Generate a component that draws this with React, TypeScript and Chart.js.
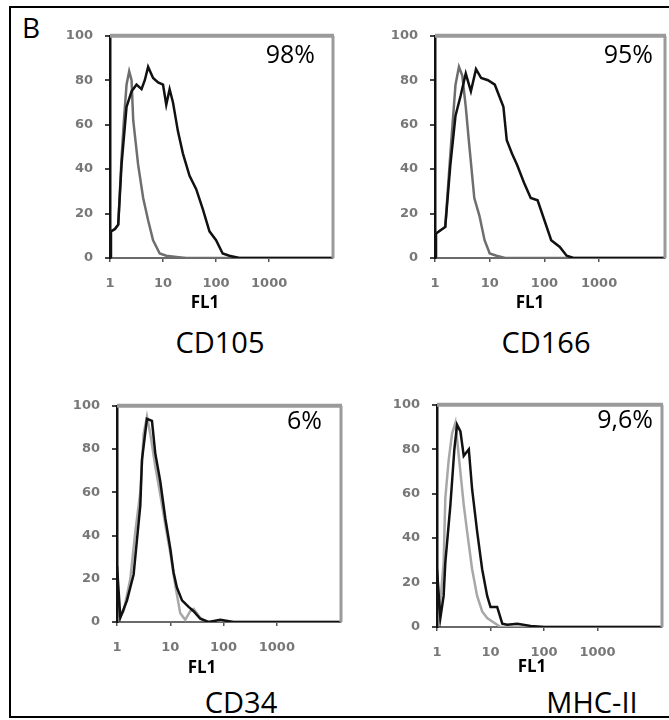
import React, { useEffect, useRef } from "react";
import { Chart, registerables } from "chart.js";
Chart.register(...registerables);

// ---- axis data ----
const yTickValues = [0, 20, 40, 60, 80, 100];
const xTickValues = [1, 10, 100, 1000];
const xMin = 1;
const xMax = 16000;

// ---- CD105 ----
const cd105ControlX = [1, 1.04, 1.24, 1.43, 1.65, 1.83, 2.05, 2.3, 2.55, 2.74, 3.39, 4.22, 5.23, 6.49, 8.66, 11.5, 17.8, 27.4, 16000];
const cd105ControlY = [0, 12, 13, 15, 45, 62, 78, 84, 80, 62, 42, 27, 17, 8, 2, 1, 0.5, 0, 0];
const cd105SampleX = [1, 1.04, 1.24, 1.43, 1.65, 2.05, 2.55, 3.16, 3.93, 4.53, 5.23, 6.49, 8.06, 10, 11.5, 13.3, 15.4, 19.1, 23.7, 31.6, 42.2, 56.2, 75, 100, 133, 178, 274, 16000];
const cd105SampleY = [0, 12, 13, 15, 42, 68, 75, 78, 76, 80, 86, 81, 79, 78, 69, 76, 70, 57, 47, 37, 31, 22, 12, 8, 2, 1, 0, 0];

// ---- CD166 ----
const cd166ControlX = [1, 1.04, 1.54, 1.91, 2.37, 2.74, 3.16, 3.65, 4.22, 5.23, 6.49, 8.06, 10, 13.3, 19.1, 16000];
const cd166ControlY = [0, 11, 14, 47, 78, 86, 82, 68, 51, 27, 19, 8, 2, 1, 0, 0];
const cd166SampleX = [1, 1.04, 1.54, 1.91, 2.37, 2.94, 3.65, 4.53, 5.62, 6.98, 9.3, 12.4, 15.4, 17.8, 20.5, 25.5, 31.6, 42.2, 56.2, 75, 100, 133, 191, 255, 340, 16000];
const cd166SampleY = [0, 11, 14, 42, 64, 73, 83, 75, 85, 81, 80, 78, 72, 68, 53, 47, 42, 34, 27, 26, 17, 8, 5, 1, 0, 0];

// ---- CD34 ----
const cd34ControlX = [1, 1.33, 1.78, 2.21, 2.74, 3.16, 3.65, 4.22, 5.23, 6.49, 8.06, 10, 12.4, 15.4, 19.1, 23.7, 27.4, 36.5, 48.7, 16000];
const cd34ControlY = [0, 5, 20, 42, 60, 87, 95, 87, 72, 59, 45, 32, 17, 4, 1, 5, 6, 2, 0, 0];
const cd34SampleX = [1, 1, 1.155, 1.54, 2.05, 2.74, 2.94, 3.65, 4.53, 5.23, 6.49, 8.06, 10, 11.5, 13.3, 16.6, 22.1, 27.4, 36.5, 52.3, 86.6, 154, 16000];
const cd34SampleY = [0, 26, 2, 10, 22, 54, 75, 94, 93, 78, 65, 48, 34, 23, 16, 10, 7, 5, 1.5, 0, 1, 0, 0];

// ---- MHC-II ----
const mhcControlX = [1, 1.07, 1.33, 1.43, 1.65, 1.91, 2.21, 2.55, 3.16, 3.65, 4.53, 5.62, 6.98, 8.66, 11.5, 15.4, 16000];
const mhcControlY = [0, 2, 29, 58, 75, 87, 92, 77, 55, 43, 26, 14, 7, 4, 2, 0, 0];
const mhcSampleX = [1, 1, 1.155, 1.33, 1.43, 1.78, 2.11, 2.37, 2.74, 3.16, 3.93, 4.53, 5.62, 6.98, 8.66, 10, 13.3, 16.6, 20.5, 31.6, 56.2, 100, 16000];
const mhcSampleY = [0, 26, 4, 14, 29, 55, 80, 91, 88, 77, 80, 62, 43, 26, 14, 9, 9, 1.5, 1, 1.5, 0.5, 0, 0];

// ---- labels ----
const markerNames = ["CD105", "CD166", "CD34", "MHC-II"];
const percentLabels = ["98%", "95%", "6%", "9,6%"];
const axisTitle = "FL1";

const toPoints = (xs: number[], ys: number[]) => xs.map((x, i) => ({ x, y: ys[i] }));

type Box = { L: number; R: number; T: number; B: number };

const PAD_TOP = 12;
const PAD_RIGHT = 12;
const Y_W = 60;
const X_H = 45;

const framePlugin = {
  id: "grayFrame",
  afterDatasetsDraw(chart: any) {
    const { ctx, chartArea } = chart;
    ctx.save();
    ctx.strokeStyle = "#9a9a9a";
    ctx.lineWidth = 4;
    ctx.beginPath();
    ctx.moveTo(chartArea.left, chartArea.top);
    ctx.lineTo(chartArea.right + 1, chartArea.top);
    ctx.stroke();
    ctx.lineWidth = 3;
    ctx.beginPath();
    ctx.moveTo(chartArea.right, chartArea.top);
    ctx.lineTo(chartArea.right, chartArea.bottom);
    ctx.stroke();
    ctx.restore();
  },
};

function Panel({ box, control, sample, controlColor }: { box: Box; control: any[]; sample: any[]; controlColor: string }) {
  const ref = useRef<HTMLCanvasElement | null>(null);
  const width = box.R - box.L + Y_W + PAD_RIGHT;
  const height = box.B - box.T + PAD_TOP + X_H;
  useEffect(() => {
    if (!ref.current) return;
    const chart = new Chart(ref.current, {
      type: "line",
      data: {
        datasets: [
          { data: sample, borderColor: "#111", borderWidth: 2.5, pointRadius: 0, tension: 0, fill: false, order: 0 },
          { data: control, borderColor: controlColor, borderWidth: 2.5, pointRadius: 0, tension: 0, fill: false, order: 1 },
        ],
      },
      options: {
        responsive: false,
        animation: false,
        devicePixelRatio: 1,
        layout: { autoPadding: false, padding: { top: PAD_TOP, right: PAD_RIGHT, left: 0, bottom: 0 } },
        plugins: { legend: { display: false }, tooltip: { enabled: false }, title: { display: false } },
        scales: {
          x: {
            type: "logarithmic",
            min: xMin,
            max: xMax,
            afterFit: (s: any) => { s.height = X_H; },
            afterBuildTicks: (s: any) => { s.ticks = xTickValues.map((v) => ({ value: v })); },
            ticks: {
              autoSkip: false,
              maxRotation: 0,
              padding: 14,
              color: "#777",
              font: { family: "DejaVu Sans", size: 13, weight: "bold" },
              callback: (v: any) => String(v),
            },
            grid: { display: true, drawOnChartArea: false, tickLength: 4, color: "#555", lineWidth: 1.5 },
            border: { display: true, color: "#6a6a6a", width: 2 },
          },
          y: {
            min: 0,
            max: 100,
            afterFit: (s: any) => { s.width = Y_W; },
            afterBuildTicks: (s: any) => { s.ticks = yTickValues.map((v) => ({ value: v })); },
            ticks: {
              padding: 12,
              color: "#777",
              font: { family: "DejaVu Sans", size: 13, weight: "bold" },
            },
            grid: { display: true, drawOnChartArea: false, tickLength: 5, color: "#444", lineWidth: 2 },
            border: { display: true, color: "#111", width: 2.5, dash: [3, 2] },
          },
        },
      },
      plugins: [framePlugin],
    } as any);
    return () => chart.destroy();
  }, []);
  return (
    <canvas
      ref={ref}
      width={width}
      height={height}
      style={{ position: "absolute", left: box.L - Y_W, top: box.T - PAD_TOP, width, height }}
    />
  );
}

const FONT = "'Open Sans', 'Noto Sans', sans-serif";

function Txt({ text, cx, right, top, size, bold }: { text: string; cx?: number; right?: number; top: number; size: number; bold?: boolean }) {
  const style: any = {
    position: "absolute",
    top,
    fontFamily: FONT,
    fontSize: size,
    lineHeight: 1,
    fontWeight: bold ? 700 : 400,
    color: "#000",
    whiteSpace: "nowrap",
    width: 200,
  };
  if (cx !== undefined) {
    style.left = cx - 100;
    style.textAlign = "center";
  } else if (right !== undefined) {
    style.left = right - 200;
    style.textAlign = "right";
  }
  return <div style={style}>{text}</div>;
}

const boxes: Box[] = [
  { L: 110, R: 333, T: 28, B: 258 },
  { L: 435, R: 665, T: 28, B: 258 },
  { L: 117, R: 341, T: 398, B: 622 },
  { L: 437, R: 662, T: 397, B: 627 },
];

export default function App() {
  return (
    <div style={{ position: "absolute", left: 0, top: 0, width: 669, height: 720, overflow: "hidden", background: "#fff" }}>
      <div style={{ position: "absolute", left: 9, top: 6, width: 700, height: 712, border: "2px solid #000", boxSizing: "border-box" }} />
      <div style={{ position: "absolute", left: 22, top: 13, fontFamily: FONT, fontSize: 28, lineHeight: 1 }}>B</div>

      <Panel box={boxes[0]} control={toPoints(cd105ControlX, cd105ControlY)} sample={toPoints(cd105SampleX, cd105SampleY)} controlColor="#6e6e6e" />
      <Panel box={boxes[1]} control={toPoints(cd166ControlX, cd166ControlY)} sample={toPoints(cd166SampleX, cd166SampleY)} controlColor="#6e6e6e" />
      <Panel box={boxes[2]} control={toPoints(cd34ControlX, cd34ControlY)} sample={toPoints(cd34SampleX, cd34SampleY)} controlColor="#a8a8a8" />
      <Panel box={boxes[3]} control={toPoints(mhcControlX, mhcControlY)} sample={toPoints(mhcSampleX, mhcSampleY)} controlColor="#a8a8a8" />

      <Txt text={percentLabels[0]} right={315} top={41} size={25} />
      <Txt text={percentLabels[1]} right={653} top={41} size={25} />
      <Txt text={percentLabels[2]} right={322} top={407} size={25} />
      <Txt text={percentLabels[3]} right={653} top={406} size={25} />

      <Txt text={axisTitle} cx={205} top={293} size={17} bold />
      <Txt text={axisTitle} cx={530} top={293} size={17} bold />
      <Txt text={axisTitle} cx={202} top={658} size={17} bold />
      <Txt text={axisTitle} cx={532} top={657} size={17} bold />

      <Txt text={markerNames[0]} cx={220} top={327} size={29} />
      <Txt text={markerNames[1]} cx={546} top={327} size={29} />
      <Txt text={markerNames[2]} cx={241} top={687} size={29} />
      <Txt text={markerNames[3]} cx={592} top={687} size={29} />
    </div>
  );
}
